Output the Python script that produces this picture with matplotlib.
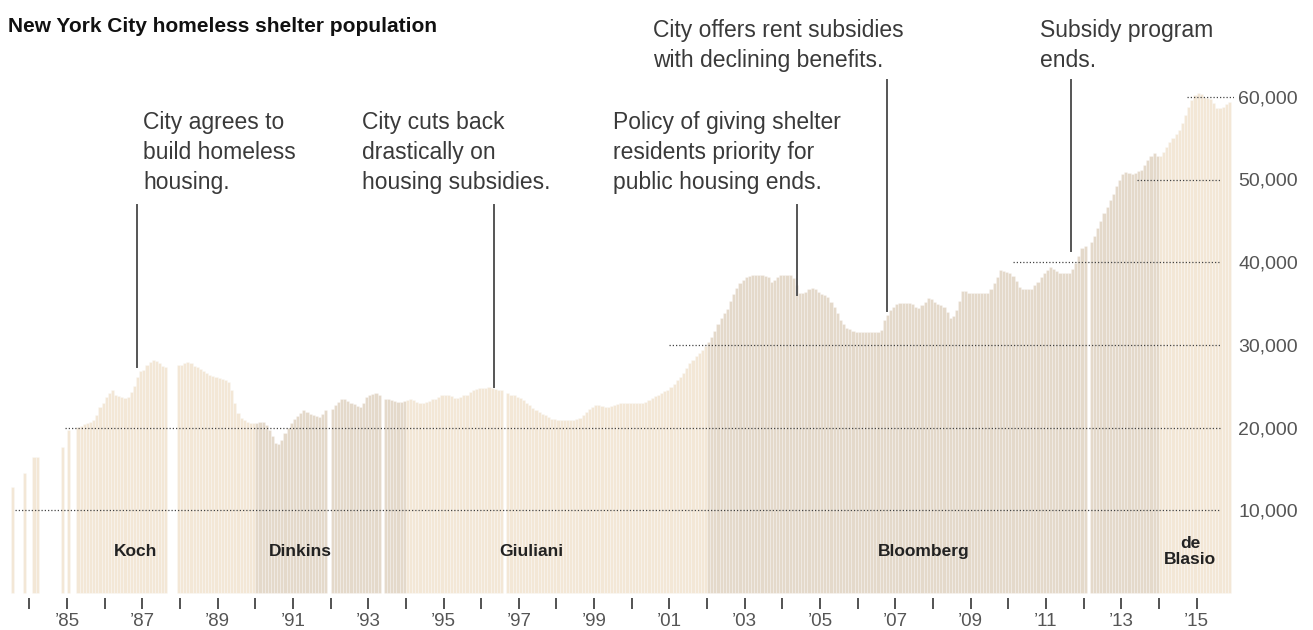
import numpy as np
import matplotlib.pyplot as plt

nan = np.nan

# monthly shelter population (thousands), Jan 1983 .. Nov 2015, one row per year
first_year = 1983
shelter_k = [
    nan, nan, nan, nan, nan, nan, 12.8, nan, nan, nan, 14.5, nan,              # 1983
    nan, 16.5, 16.5, nan, nan, nan, nan, nan, nan, nan, 17.7, nan,             # 1984
    19.7, nan, nan, 20.1, 20.2, 20.4, 20.5, 20.7, 20.9, 21.5, 22.5, 23.0,      # 1985
    23.7, 24.2, 24.6, 24.0, 23.8, 23.7, 23.6, 23.7, 24.3, 25.0, 26.1, 26.8,    # 1986
    27.0, 27.6, 27.9, 28.2, 28.0, 27.8, 27.5, 27.3, nan, nan, nan, 27.6,       # 1987
    27.6, 27.8, 27.9, 27.8, 27.5, 27.3, 27.1, 26.9, 26.6, 26.4, 26.2, 26.1,    # 1988
    26.0, 25.9, 25.7, 25.5, 24.6, 23.0, 21.8, 21.2, 20.9, 20.7, 20.6, 20.6,    # 1989
    20.6, 20.7, 20.7, 20.3, 19.7, 19.0, 18.1, 18.0, 18.5, 19.3, 20.0, 20.6,    # 1990
    21.0, 21.4, 21.8, 22.1, 21.9, 21.6, 21.5, 21.4, 21.3, 21.7, 22.1, nan,     # 1991
    22.3, 22.7, 23.1, 23.5, 23.4, 23.2, 23.0, 22.8, 22.6, 22.5, 23.0, 23.7,    # 1992
    23.9, 24.1, 24.2, 23.9, nan, 23.5, 23.4, 23.3, 23.2, 23.1, 23.1, 23.2,     # 1993
    23.3, 23.4, 23.3, 23.1, 23.0, 23.0, 23.1, 23.2, 23.4, 23.5, 23.7, 23.9,    # 1994
    23.9, 24.0, 23.8, 23.6, 23.6, 23.7, 23.9, 24.0, 24.3, 24.6, 24.7, 24.8,    # 1995
    24.8, 24.8, 24.9, 24.8, 24.7, 24.6, 24.6, nan, 24.2, 24.0, 23.9, 23.7,     # 1996
    23.6, 23.3, 23.0, 22.7, 22.4, 22.1, 21.9, 21.7, 21.5, 21.3, 21.1, 21.0,    # 1997
    20.9, 20.9, 20.9, 20.9, 20.9, 20.9, 21.0, 21.2, 21.5, 21.9, 22.2, 22.5,    # 1998
    22.7, 22.7, 22.6, 22.5, 22.5, 22.6, 22.7, 22.9, 23.0, 23.0, 23.0, 23.0,    # 1999
    23.0, 23.0, 23.0, 23.0, 23.1, 23.3, 23.6, 23.8, 24.0, 24.2, 24.4, 24.6,    # 2000
    24.9, 25.3, 25.7, 26.1, 26.6, 27.2, 27.8, 28.2, 28.6, 29.0, 29.4, 29.9,    # 2001
    30.3, 31.0, 31.7, 32.5, 33.3, 33.8, 34.3, 35.3, 36.2, 36.9, 37.5, 37.9,    # 2002
    38.2, 38.3, 38.4, 38.5, 38.5, 38.4, 38.3, 38.2, 37.6, 37.9, 38.2, 38.4,    # 2003
    38.5, 38.5, 38.4, 38.1, 37.2, 36.3, 36.3, 36.4, 36.7, 36.9, 36.7, 36.4,    # 2004
    36.2, 36.0, 35.8, 35.2, 34.6, 33.8, 33.0, 32.5, 32.1, 31.9, 31.7, 31.6,    # 2005
    31.6, 31.6, 31.6, 31.6, 31.6, 31.5, 31.5, 31.8, 33.0, 33.6, 34.2, 34.6,    # 2006
    34.9, 35.1, 35.1, 35.1, 35.1, 34.9, 34.6, 34.5, 34.8, 35.2, 35.7, 35.5,    # 2007
    35.2, 35.0, 34.8, 34.6, 34.0, 33.2, 33.5, 34.2, 35.3, 36.5, 36.5, 36.3,    # 2008
    36.3, 36.3, 36.3, 36.3, 36.3, 36.3, 36.7, 37.5, 38.2, 39.0, 38.9, 38.8,    # 2009
    38.7, 38.3, 37.7, 37.0, 36.8, 36.7, 36.7, 36.8, 37.2, 37.6, 38.2, 38.7,    # 2010
    39.1, 39.4, 39.2, 38.9, 38.7, 38.7, 38.7, 38.7, 39.2, 39.9, 40.8, 41.7,    # 2011
    41.9, nan, 42.5, 43.2, 44.1, 45.0, 45.9, 46.7, 47.5, 48.3, 49.2, 50.0,     # 2012
    50.7, 50.9, 50.8, 50.7, 50.8, 51.0, 51.2, 51.7, 52.3, 52.8, 53.2, 52.8,    # 2013
    52.8, 53.3, 53.9, 54.5, 55.0, 55.5, 56.0, 56.8, 57.8, 58.8, 59.6, 60.2,    # 2014
    60.5, 60.3, 60.0, 59.9, 59.7, 59.2, 58.7, 58.6, 58.8, 59.1, 59.4,          # 2015
]

mayors = ['Koch', 'Dinkins', 'Giuliani', 'Bloomberg', 'de\nBlasio']
mayor_start = [1978, 1990, 1994, 2002, 2014]

notes = ['City agrees to\nbuild homeless\nhousing.',
         'City cuts back\ndrastically on\nhousing subsidies.',
         'Policy of giving shelter\nresidents priority for\npublic housing ends.',
         'City offers rent subsidies\nwith declining benefits.',
         'Subsidy program\nends.']
note_date = [1986.86, 1996.34, 2004.39, 2006.78, 2011.67]

grid_vals = [10000, 20000, 30000, 40000, 50000, 60000]

# ---- layout / style ----
plt.rcParams['font.family'] = ['Liberation Sans', 'DejaVu Sans']
light, dark = '#f3e7d6', '#e4d9ca'
era_colors = [light, dark, light, dark, light]
mayor_label_x = [1986.81, 1991.19, 1997.32, 2007.76, 2014.83]
note_text_pos = [(1987.02, 58300), (1992.84, 58300), (1999.50, 58300),
                 (2000.56, 69400), (2010.84, 69400)]
note_line_y = [(46900, 27300), (46900, 24900), (46900, 36000),
               (62000, 34100), (62000, 41300)]
grid_start = [1983.62, 1984.95, 2001.0, 2010.13, 2013.42, 2014.75]
grid_end = [2015.62, 2015.62, 2015.62, 2015.62, 2015.62, 2016.0]

px = 10000 / 82.7          # value per pixel
yr = 37.65                 # pixels per year

fig = plt.figure(figsize=(13.13, 6.3), dpi=100)
ax = fig.add_axes([0, 32 / 630, 1234 / 1313, 598 / 630])
ax.set_xlim(1985 - 67 / yr, 1985 + (1234 - 67) / yr)
ax.set_ylim(-5 * px, 593 * px)

vals = np.array(shelter_k) * 1000
t = first_year + np.arange(len(vals)) / 12.0
era = np.searchsorted(mayor_start, t, side='right') - 1
cols = [era_colors[e] for e in era]
ok = ~np.isnan(vals)
ax.bar(t[ok], vals[ok], width=1 / 12, align='edge',
       color=[c for c, k in zip(cols, ok) if k],
       edgecolor=(1, 1, 1, 0.35), linewidth=0.5, zorder=1)

for v, s, e in zip(grid_vals, grid_start, grid_end):
    ax.plot([s, e], [v, v], color='#444444', lw=0.9, ls=(0, (1, 1.6)), zorder=3)

for name, x in zip(mayors, mayor_label_x):
    ax.text(x, 5000, name, ha='center', va='center', fontsize=12.5,
            fontweight='bold', color='#222222', linespacing=1.05, zorder=4)

for txt, d, (tx, ty), (l0, l1) in zip(notes, note_date, note_text_pos, note_line_y):
    ax.plot([d, d], [l0, l1], color='#555555', lw=1.4, zorder=4, clip_on=False)
    ax.text(tx, ty, txt, ha='left', va='top', fontsize=16.5, color='#3a3a3a',
            linespacing=1.38, clip_on=False)

fig.text(8 / 1313, 1 - 27 / 630, 'New York City homeless shelter population',
         fontsize=15, fontweight='bold', color='#111111', va='center')

for sp in ax.spines.values():
    sp.set_visible(False)

major = list(range(1985, 2016, 2))
ax.set_xticks(major)
ax.set_xticklabels(['\u2019%02d' % (y % 100) for y in major])
ax.set_xticks(list(range(1984, 2016, 2)), minor=True)
ax.tick_params(axis='x', which='both', direction='out', length=8, width=1.3,
               color='#444444', pad=2.5, labelsize=13.5, labelcolor='#555555')

ax.yaxis.tick_right()
ax.set_yticks(grid_vals)
ax.set_yticklabels(['{:,}'.format(v) for v in grid_vals])
ax.tick_params(axis='y', length=0, pad=3, labelsize=14, labelcolor='#555555')

fig.savefig('out.png', dpi=100)
